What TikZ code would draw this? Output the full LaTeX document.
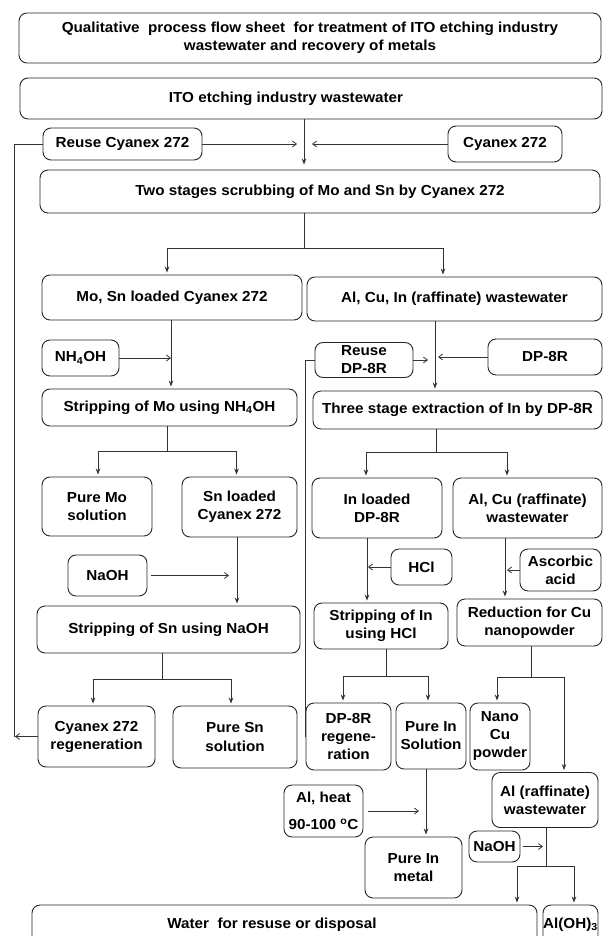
\documentclass[tikz,border=0pt]{standalone}
\usepackage{fontspec}
\setmainfont{Liberation Sans}[FakeStretch=1.05]
\usetikzlibrary{arrows.meta}
\begin{document}
\begin{tikzpicture}[x=1pt,y=-1pt,
  box/.style={draw=black!85, line width=0.9pt, rounded corners=8pt, align=center, inner sep=0pt,
    font=\fontsize{14.5}{18}\selectfont\bfseries},
  ln/.style={draw=black!80, line width=0.8pt},
  dar/.style={ln, -{Stealth[length=6pt,width=4.5pt]}, shorten >=2pt},
  har/.style={ln, -{Straight Barb[length=4pt,width=6pt]}}]
\useasboundingbox (0,0) rectangle (603,936);
\clip (0,0) rectangle (603,936);
% nodes
\node[box, minimum width=582pt, minimum height=50pt] (title) at (310,38)
  {Qualitative\ \ process flow sheet\ \ for treatment of ITO etching industry\\wastewater and recovery of metals};
\node[box, minimum width=582pt, minimum height=41pt] (ito) at (311,98.5) {ITO etching industry wastewater\hspace*{50pt}};
\node[box, minimum width=159pt, minimum height=32pt] (reuseC) at (122.5,144) {Reuse Cyanex 272};
\node[box, minimum width=114pt, minimum height=36pt] (cyan) at (505,144) {Cyanex 272};
\node[box, minimum width=560pt, minimum height=43pt] (two) at (320,191.5) {Two stages scrubbing of Mo and Sn by Cyanex 272};
\node[box, minimum width=260pt, minimum height=45pt] (mosn) at (172,297.5) {Mo, Sn loaded Cyanex 272};
\node[box, minimum width=295pt, minimum height=44pt] (alcuin) at (454.5,299) {Al, Cu, In (raffinate) wastewater};
\node[box, minimum width=77pt, minimum height=36pt] (nh4oh) at (80.5,358) {NH\textsubscript{4}OH};
\node[box, minimum width=255pt, minimum height=37pt] (stripMo) at (169.5,407.5) {Stripping of Mo using NH\textsubscript{4}OH};
\node[box, minimum width=98pt, minimum height=35pt] (reuseDP) at (364,360) {Reuse\\DP-8R};
\node[box, minimum width=114pt, minimum height=36pt] (dp8r) at (545,357) {DP-8R};
\node[box, minimum width=289pt, minimum height=38pt] (three) at (457.5,410) {Three stage extraction of In by DP-8R};
\node[box, minimum width=110pt, minimum height=59pt] (pureMo) at (97,506.5) {Pure Mo\\solution};
\node[box, minimum width=115pt, minimum height=60pt] (snLoaded) at (239.5,507) {Sn loaded\\Cyanex 272};
\node[box, minimum width=130pt, minimum height=60pt] (inLoaded) at (377,508) {In loaded\\DP-8R};
\node[box, minimum width=149pt, minimum height=60pt] (alcu) at (527.5,508) {Al, Cu (raffinate)\\wastewater};
\node[box, minimum width=79pt, minimum height=41pt] (naoh1) at (107.5,575.5) {NaOH};
\node[box, minimum width=61pt, minimum height=36pt] (hcl) at (421.5,567) {HCl};
\node[box, minimum width=81pt, minimum height=42pt] (ascorbic) at (560.5,570) {Ascorbic\\acid};
\node[box, minimum width=263pt, minimum height=47pt] (stripSn) at (168.5,629.5) {Stripping of Sn using NaOH};
\node[box, minimum width=134pt, minimum height=46pt] (stripIn) at (381,626) {Stripping of In\\using HCl};
\node[box, minimum width=145pt, minimum height=47pt] (reduction) at (529.5,622.5) {Reduction for Cu\\nanopowder};
\node[box, minimum width=117pt, minimum height=61pt] (cyRegen) at (96.5,736.5) {Cyanex 272\\regeneration};
\node[box, minimum width=124pt, minimum height=62pt] (pureSn) at (235,737) {Pure Sn\\solution};
\node[box, minimum width=85pt, minimum height=67pt] (dpRegen) at (348.5,736.5) {DP-8R\\regene-\\ration};
\node[box, minimum width=70pt, minimum height=66pt] (pureIn) at (431,736) {Pure In\\Solution};
\node[box, minimum width=60pt, minimum height=67pt] (nanoCu) at (500,736.5) {Nano\\Cu\\powder};
\node[box, minimum width=106pt, minimum height=55pt] (alRaff) at (545,800) {Al (raffinate)\\wastewater};
\node[box, minimum width=79pt, minimum height=52pt] (alHeat) at (323.5,811) {Al, heat\\[9pt]90-100 \textsuperscript{o}C};
\node[box, minimum width=97pt, minimum height=61pt] (pureInMetal) at (413.5,867.5) {Pure In\\metal};
\node[box, minimum width=51pt, minimum height=31pt] (naoh2) at (494.5,846.5) {NaOH};
\node[box, minimum width=505pt, minimum height=40pt] (water) at (284.5,925) {Water\ \ for resuse or disposal\hspace*{25pt}};
\node[box, minimum width=55pt, minimum height=40pt] (aloh) at (570.5,925) {Al(OH)\textsubscript{3}};
% coordinates
\coordinate (cA) at (304,144);
\coordinate (lA) at (14,144);
\coordinate (lB) at (14,736.5);
\coordinate (jB) at (304,248);
\coordinate (vMo) at (171,0);
\coordinate (jC) at (167,451);
\coordinate (vSn) at (237,0);
\coordinate (jD) at (162,679);
\coordinate (vIn) at (435,0);
\coordinate (jE) at (436,452);
\coordinate (vIL) at (367,0);
\coordinate (vCu) at (505,0);
\coordinate (jF) at (386,676);
\coordinate (jG) at (531,677);
\coordinate (vPI) at (426,0);
\coordinate (jH) at (546,866);
\coordinate (xW) at (517,0);
% connectors
\draw[dar, shorten >=5pt] ([xshift=-7pt]ito.south) -- ([xshift=-7pt]ito.south |- two.north);
\draw[har] (reuseC.east) -- ([xshift=-7pt]cA);
\draw[har] (cyan.west) -- ([xshift=8pt]cA);
\draw[ln] (reuseC.west) -- (lA) -- (lB);
\draw[har] (cyRegen.west) -- ([xshift=1pt]lB);
\draw[ln] (two.south -| jB) -- (jB);
\draw[dar] (jB) -| ([xshift=-5pt]mosn.north);
\draw[dar] (jB) -| ([xshift=-11.5pt]alcuin.north);
\draw[dar] (mosn.south -| vMo) -- (stripMo.north -| vMo);
\draw[har] (nh4oh.east) -- (nh4oh.east -| vMo);
\draw[ln] (stripMo.south -| jC) -- (jC);
\draw[dar] (jC) -| ([xshift=1pt]pureMo.north);
\draw[dar] (jC) -| ([xshift=-3pt]snLoaded.north);
\draw[dar] (snLoaded.south -| vSn) -- (stripSn.north -| vSn);
\draw[har, shorten <=4pt] (naoh1.east) -- ([xshift=-8pt]naoh1.east -| vSn);
\draw[ln] (stripSn.south -| jD) -- (jD);
\draw[dar] (jD) -| ([xshift=-3.5pt]cyRegen.north);
\draw[dar] (jD) -| ([xshift=-4pt]pureSn.north);
\draw[dar] (alcuin.south -| vIn) -- (three.north -| vIn);
\draw[har] (reuseDP.east) -- ([xshift=-7pt]reuseDP.east -| vIn);
\draw[har] (dp8r.west) -- ([xshift=3pt]dp8r.west -| vIn);
\draw[ln] (reuseDP.west) -| (dpRegen.west);
\draw[ln] (three.south -| jE) -- (jE);
\draw[dar] (jE) -| ([xshift=-11pt]inLoaded.north);
\draw[dar] (jE) -| ([xshift=-20.5pt]alcu.north);
\draw[dar] (inLoaded.south -| vIL) -- (stripIn.north -| vIL);
\draw[har] (hcl.west) -- ([xshift=1pt]hcl.west -| vIL);
\draw[dar] (alcu.south -| vCu) -- (reduction.north -| vCu);
\draw[har] (ascorbic.west) -- ([xshift=2pt]ascorbic.west -| vCu);
\draw[ln] (stripIn.south -| jF) -- (jF);
\draw[dar] (jF) -| ([xshift=-5.5pt]dpRegen.north);
\draw[dar] (jF) -| ([xshift=-3pt]pureIn.north);
\draw[ln] (reduction.south -| jG) -- (jG);
\draw[dar] (jG) -| ([xshift=-3pt]nanoCu.north);
\draw[dar] (jG) -| ([xshift=19pt]alRaff.north);
\draw[dar] (pureIn.south -| vPI) -- (pureInMetal.north -| vPI);
\draw[har, shorten <=5pt] (alHeat.east) -- ([xshift=-7pt]alHeat.east -| vPI);
\draw[ln] (alRaff.south -| jH) -- (jH);
\draw[dar] (jH) -| (water.north -| xW);
\draw[dar] (jH) -| ([xshift=3.5pt]aloh.north);
\draw[har, shorten <=3pt] (naoh2.east) -- ([xshift=-3pt]naoh2.east -| jH);
\end{tikzpicture}
\end{document}
